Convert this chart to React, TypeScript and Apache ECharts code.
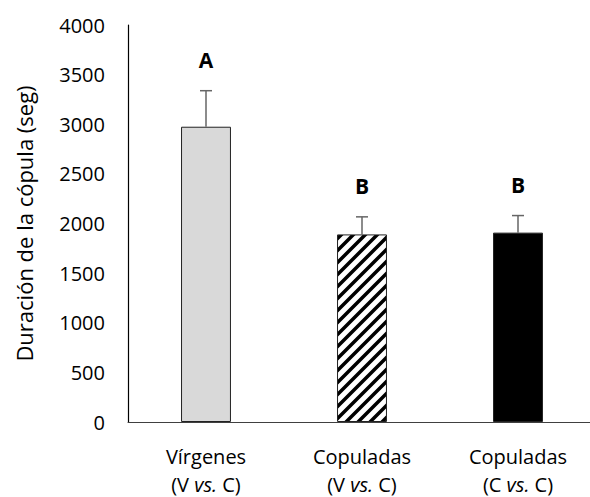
import React, { useEffect, useRef } from "react";
import * as echarts from "echarts";

const categories = ["Vírgenes", "Copuladas", "Copuladas"];
const comparisons = ["(V vs. C)", "(V vs. C)", "(C vs. C)"];
const means = [2975, 1890, 1908];
const errors = [363, 177, 172];
const letters = ["A", "B", "B"];
const yTicks = { min: 0, max: 4000, interval: 500 };

function makeHatch(): HTMLCanvasElement {
  const s = 12;
  const c = document.createElement("canvas");
  c.width = s;
  c.height = s;
  const ctx = c.getContext("2d")!;
  ctx.fillStyle = "#ffffff";
  ctx.fillRect(0, 0, s, s);
  ctx.strokeStyle = "#000000";
  ctx.lineWidth = 3.5;
  ctx.beginPath();
  ctx.moveTo(-2, s + 2);
  ctx.lineTo(s + 2, -2);
  ctx.moveTo(-2, 2);
  ctx.lineTo(2, -2);
  ctx.moveTo(s - 2, s + 2);
  ctx.lineTo(s + 2, s - 2);
  ctx.stroke();
  return c;
}

export default function App() {
  const ref = useRef<HTMLDivElement>(null);
  useEffect(() => {
    if (!ref.current) return;
    const chart = echarts.init(ref.current, undefined, { renderer: "svg" });
    const hatch = makeHatch();
    const fills: any[] = [
      "#d9d9d9",
      { image: hatch, repeat: "repeat" },
      "#000000",
    ];
    const font = "Open Sans";
    chart.setOption({
      animation: false,
      grid: {
        left: 128,
        top: 25,
        bottom: 75,
        width: 468,
        containLabel: false,
        outerBoundsMode: "none",
      },
      xAxis: {
        type: "category",
        data: categories.map((c, i) => c + "\n" + comparisons[i]),
        axisLine: { show: true, lineStyle: { color: "#404040", width: 1 } },
        axisTick: { show: false },
        axisLabel: {
          margin: 20,
          interval: 0,
          color: "#000",
          fontFamily: font,
          fontSize: 20,
          lineHeight: 28,
          formatter: (v: string) => v.replace("vs.", "{i|vs.}"),
          rich: {
            i: {
              fontStyle: "italic",
              fontFamily: font,
              fontSize: 20,
              color: "#000",
              lineHeight: 28,
            },
          },
        },
      },
      yAxis: {
        type: "value",
        min: yTicks.min,
        max: yTicks.max,
        interval: yTicks.interval,
        name: "Duración de la cópula (seg)",
        nameLocation: "middle",
        nameGap: 93,
        nameTextStyle: { color: "#000", fontFamily: font, fontSize: 22 },
        axisLine: { show: true, lineStyle: { color: "#000", width: 1.2 } },
        axisTick: { show: false },
        splitLine: { show: false },
        axisLabel: {
          margin: 23,
          color: "#000",
          fontFamily: font,
          fontSize: 20,
          formatter: (v: number) => String(v),
        },
      },
      series: [
        {
          type: "bar",
          barWidth: "32%",
          data: means.map((m, i) => ({
            value: m,
            itemStyle: {
              color: fills[i],
              borderColor: "#222",
              borderWidth: 1,
            },
          })),
        },
        {
          type: "custom",
          data: means.map((m, i) => [i, m, errors[i]]),
          z: 5,
          renderItem: (params: any, api: any) => {
            const idx = params.dataIndex;
            const base = api.coord([api.value(0), api.value(1)]);
            const top = api.coord([api.value(0), api.value(1) + api.value(2)]);
            const x = base[0];
            const col = "#666666";
            return {
              type: "group",
              children: [
                {
                  type: "line",
                  shape: { x1: x, y1: base[1], x2: x, y2: top[1] },
                  style: { stroke: col, lineWidth: 1.5 },
                },
                {
                  type: "line",
                  shape: { x1: x - 6, y1: top[1], x2: x + 6, y2: top[1] },
                  style: { stroke: col, lineWidth: 1.5 },
                },
                {
                  type: "text",
                  x: x,
                  y: top[1] - 31,
                  style: {
                    text: letters[idx],
                    fill: "#000",
                    font: "bold 21px 'Open Sans'",
                    align: "center",
                    verticalAlign: "middle",
                  },
                },
              ],
            };
          },
        },
      ],
    });
    return () => chart.dispose();
  }, []);
  return (
    <div
      ref={ref}
      style={{ position: "absolute", left: 0, top: 0, width: 590, height: 497 }}
    />
  );
}
